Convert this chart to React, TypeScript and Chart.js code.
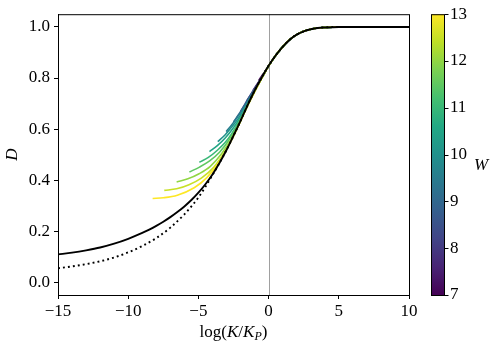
import React, { useEffect, useRef } from "react";
import { Chart, registerables } from "chart.js";
Chart.register(...registerables);

// ---- tick values / labels ----
const xTicks = [-15, -10, -5, 0, 5, 10];
const xTickLabels = ["\u221215", "\u221210", "\u22125", "0", "5", "10"];
const yTicks = [0, 0.2, 0.4, 0.6, 0.8, 1.0];
const yTickLabels = ["0.0", "0.2", "0.4", "0.6", "0.8", "1.0"];
const wTicks = [7, 8, 9, 10, 11, 12, 13];
const wTickLabels = ["7", "8", "9", "10", "11", "12", "13"];
const refLineX = 0;

// ---- main (solid) curve ----
const solidX = [-15, -14, -13, -12, -11, -10, -9, -8.5, -8, -7.5, -7, -6.5, -6, -5.5, -5, -4.5, -4, -3.5, -3, -2.5, -2, -1.5, -1, -0.5, 0, 0.5, 1, 1.5, 2, 2.5, 3, 3.5, 4, 5, 6, 7, 8, 9, 10];
const solidD = [0.109, 0.116, 0.125, 0.136, 0.151, 0.170, 0.193, 0.206, 0.221, 0.237, 0.255, 0.275, 0.297, 0.322, 0.351, 0.384, 0.422, 0.467, 0.518, 0.574, 0.632, 0.693, 0.750, 0.801, 0.848, 0.888, 0.922, 0.950, 0.970, 0.983, 0.991, 0.996, 0.998, 1.0, 1.0, 1.0, 1.0, 1.0, 1.0];

// ---- dotted curve ----
const dottedX = [-15, -14, -13, -12, -11, -10, -9, -8, -7, -6, -5.5, -5, -4.5, -4, -3.5, -3, -2.5, -2, -1.5, -1, -0.5, 0, 0.5, 1, 1.5, 2, 2.5, 3, 3.5, 4, 5, 6, 7, 8, 9, 10];
const dottedD = [0.055, 0.062, 0.071, 0.082, 0.097, 0.117, 0.142, 0.173, 0.214, 0.266, 0.297, 0.332, 0.374, 0.420, 0.467, 0.518, 0.574, 0.632, 0.693, 0.750, 0.801, 0.848, 0.888, 0.922, 0.950, 0.970, 0.983, 0.991, 0.996, 0.998, 1.0, 1.0, 1.0, 1.0, 1.0, 1.0];

// ---- coloured curves, one per W ----
const curveW = [13, 12.5, 12, 11.5, 11, 10.5, 10, 9.5, 9, 8.5, 8, 7.5, 7];
const w13X = [-8.26, -7.5, -6.5, -5.3, -4.4, -3.5, -2.5, -1.5, -0.5, 0];
const w13D = [0.328, 0.331, 0.341, 0.370, 0.410, 0.472, 0.572, 0.691, 0.799, 0.847];
const w12_5X = [-7.43, -6.55, -5.67, -4.79, -3.91, -3.03, -2.5, -1.5, -0.5, 0];
const w12_5D = [0.360, 0.366, 0.382, 0.408, 0.450, 0.519, 0.573, 0.692, 0.799, 0.847];
const w12X = [-6.55, -5.75, -4.95, -4.15, -3.35, -2.55, -2.0, -1.5, -0.5, 0];
const w12D = [0.393, 0.405, 0.425, 0.454, 0.503, 0.571, 0.630, 0.692, 0.799, 0.847];
const w11_5X = [-5.64, -4.92, -4.2, -3.48, -2.76, -2.04, -1.5, -0.5, 0];
const w11_5D = [0.432, 0.451, 0.475, 0.510, 0.562, 0.630, 0.692, 0.799, 0.847];
const w11X = [-4.93, -4.29, -3.65, -3.01, -2.37, -1.73, -1.0, -0.5, 0];
const w11D = [0.470, 0.489, 0.517, 0.553, 0.605, 0.667, 0.749, 0.799, 0.847];
const w10_5X = [-4.21, -3.65, -3.09, -2.53, -1.97, -1.41, -1.0, -0.5, 0];
const w10_5D = [0.512, 0.535, 0.565, 0.603, 0.650, 0.706, 0.749, 0.799, 0.847];
const w10X = [-3.62, -3.14, -2.66, -2.18, -1.7, -1.22, -0.5, 0];
const w10D = [0.551, 0.575, 0.606, 0.640, 0.682, 0.728, 0.799, 0.847];
const w9_5X = [-3.02, -2.62, -2.22, -1.82, -1.42, -1.02, -0.5, 0];
const w9_5D = [0.590, 0.617, 0.647, 0.678, 0.714, 0.749, 0.800, 0.847];
const w9X = [-2.5, -2.16, -1.82, -1.48, -1.14, -0.8, -0.4, 0];
const w9D = [0.628, 0.655, 0.684, 0.713, 0.742, 0.771, 0.810, 0.847];
const w8_5X = [-2.0, -1.72, -1.44, -1.16, -0.88, -0.6, -0.3, 0];
const w8_5D = [0.668, 0.695, 0.721, 0.743, 0.766, 0.790, 0.819, 0.847];
const w8X = [-1.55, -1.33, -1.11, -0.89, -0.67, -0.45, -0.2, 0];
const w8D = [0.710, 0.730, 0.750, 0.767, 0.786, 0.806, 0.829, 0.847];
const w7_5X = [-1.1, -0.92, -0.74, -0.56, -0.38, -0.2, 0];
const w7_5D = [0.752, 0.768, 0.783, 0.798, 0.814, 0.829, 0.847];
const w7X = [-0.7, -0.56, -0.42, -0.28, -0.14, 0];
const w7D = [0.790, 0.802, 0.8135, 0.824, 0.8365, 0.847];
// shared right-hand part of every coloured curve (lies under the black curve)
const tailX = [0.5, 1, 1.5, 2, 2.5, 3, 3.5, 4, 5, 6, 7, 8, 9, 10];
const tailD = [0.888, 0.922, 0.950, 0.970, 0.983, 0.991, 0.996, 0.998, 1.0, 1.0, 1.0, 1.0, 1.0, 1.0];

const curveHeads: [number[], number[]][] = [
  [w13X, w13D], [w12_5X, w12_5D], [w12X, w12D], [w11_5X, w11_5D], [w11X, w11D],
  [w10_5X, w10_5D], [w10X, w10D], [w9_5X, w9_5D], [w9X, w9D], [w8_5X, w8_5D],
  [w8X, w8D], [w7_5X, w7_5D], [w7X, w7D],
];

// ---- styling ----
const W_MIN = 7;
const W_MAX = 13;
const VIRIDIS = ["#440154", "#482475", "#414487", "#355f8d", "#2a788e", "#21918c", "#22a884", "#44bf70", "#7ad151", "#bddf26", "#fde725"];
const FONT = "'Liberation Serif', 'DejaVu Serif', serif";
const FS = 17;

function hexToRgb(h: string) {
  return [parseInt(h.slice(1, 3), 16), parseInt(h.slice(3, 5), 16), parseInt(h.slice(5, 7), 16)];
}
function viridis(t: number) {
  const tt = Math.max(0, Math.min(1, t)) * (VIRIDIS.length - 1);
  const i = Math.min(VIRIDIS.length - 2, Math.floor(tt));
  const f = tt - i;
  const a = hexToRgb(VIRIDIS[i]);
  const b = hexToRgb(VIRIDIS[i + 1]);
  const c = a.map((v, k) => Math.round(v + (b[k] - v) * f));
  return `rgb(${c[0]},${c[1]},${c[2]})`;
}
const zip = (xs: number[], ys: number[]) => xs.map((x, i) => ({ x, y: ys[i] }));

const decorPlugin = {
  id: "decor",
  beforeDatasetsDraw(chart: any) {
    const { ctx, chartArea, scales } = chart;
    const px = Math.round(scales.x.getPixelForValue(refLineX)) + 0.5;
    ctx.save();
    ctx.strokeStyle = "#a0a0a0";
    ctx.lineWidth = 1;
    ctx.beginPath();
    ctx.moveTo(px, chartArea.top);
    ctx.lineTo(px, chartArea.bottom);
    ctx.stroke();
    ctx.restore();
  },
  afterDraw(chart: any) {
    const { ctx, chartArea, scales } = chart;
    const { left, right, top, bottom } = chartArea;
    ctx.save();
    // frame
    ctx.strokeStyle = "#000";
    ctx.lineWidth = 1;
    ctx.strokeRect(left + 0.5, top + 0.5, right - left, bottom - top);

    // colour bar
    const w = scales.w;
    const y13 = w.getPixelForValue(W_MAX);
    const y7 = w.getPixelForValue(W_MIN);
    const bx = 431;
    const bw = 13;
    const g = ctx.createLinearGradient(0, y7, 0, y13);
    VIRIDIS.forEach((c, i) => g.addColorStop(i / (VIRIDIS.length - 1), c));
    ctx.fillStyle = g;
    ctx.fillRect(bx, y13, bw, y7 - y13);
    ctx.strokeRect(bx + 0.5, y13 + 0.5, bw, y7 - y13);
    ctx.beginPath();
    wTicks.forEach((v) => {
      const y = Math.round(w.getPixelForValue(v)) + 0.5;
      ctx.moveTo(bx + bw + 0.5, y);
      ctx.lineTo(bx + bw + 4.5, y);
    });
    ctx.stroke();

    // W label
    ctx.fillStyle = "#000";
    ctx.font = `italic ${FS}px ${FONT}`;
    ctx.textAlign = "left";
    ctx.textBaseline = "alphabetic";
    ctx.fillText("W", 474, 170);

    // x-axis title: log(K/K_P)
    const parts = [
      { t: "log(", style: "normal", size: FS, dy: 0 },
      { t: "K", style: "italic", size: FS, dy: 0 },
      { t: "/", style: "normal", size: FS, dy: 0 },
      { t: "K", style: "italic", size: FS, dy: 0 },
      { t: "P", style: "italic", size: 12, dy: 3 },
      { t: ")", style: "normal", size: FS, dy: 0 },
    ];
    let total = 0;
    const widths = parts.map((p) => {
      ctx.font = `${p.style} ${p.size}px ${FONT}`;
      const wd = ctx.measureText(p.t).width;
      total += wd;
      return wd;
    });
    let cx = (left + right) / 2 - total / 2;
    const base = 337;
    parts.forEach((p, i) => {
      ctx.font = `${p.style} ${p.size}px ${FONT}`;
      ctx.fillText(p.t, cx, base + p.dy);
      cx += widths[i];
    });
    ctx.restore();
  },
};

export default function App() {
  const ref = useRef<HTMLCanvasElement | null>(null);
  useEffect(() => {
    if (!ref.current) return;
    const colored = curveHeads.map(([hx, hd], i) => ({
      label: `W=${curveW[i]}`,
      data: zip(hx.concat(tailX), hd.concat(tailD)),
      borderColor: viridis((curveW[i] - W_MIN) / (W_MAX - W_MIN)),
      borderWidth: 1.6,
      pointRadius: 0,
      fill: false,
      cubicInterpolationMode: "monotone" as const,
    }));
    const chart = new Chart(ref.current, {
      type: "line",
      data: {
        datasets: [
          {
            label: "solid",
            data: zip(solidX, solidD),
            borderColor: "#000",
            borderWidth: 1.9,
            pointRadius: 0,
            fill: false,
            cubicInterpolationMode: "monotone",
          },
          {
            label: "dotted",
            data: zip(dottedX, dottedD),
            borderColor: "#000",
            borderWidth: 1.9,
            borderDash: [1.9, 3.1],
            pointRadius: 0,
            fill: false,
            cubicInterpolationMode: "monotone",
          },
          ...colored,
        ] as any,
      },
      options: {
        animation: false,
        responsive: false,
        devicePixelRatio: 1,
        parsing: false as any,
        layout: { padding: { top: 14, left: 0, right: 0, bottom: 0 } },
        plugins: { legend: { display: false }, tooltip: { enabled: false } },
        scales: {
          x: {
            type: "linear",
            min: -15,
            max: 10,
            afterBuildTicks: (s: any) => { s.ticks = xTicks.map((v) => ({ value: v })); },
            afterFit: (s: any) => { s.height = 54; },
            ticks: {
              font: { family: FONT, size: FS },
              color: "#000",
              padding: 2,
              maxRotation: 0,
              callback: (v: any) => xTickLabels[xTicks.indexOf(Number(v))] ?? "",
            },
            grid: { display: true, drawOnChartArea: false, drawTicks: true, tickLength: 4, color: "#000" },
            border: { display: true, color: "#000", width: 1 },
          },
          y: {
            type: "linear",
            min: -0.05,
            max: 1.05,
            afterBuildTicks: (s: any) => { s.ticks = yTicks.map((v) => ({ value: v })); },
            afterFit: (s: any) => { s.width = 58; },
            ticks: {
              font: { family: FONT, size: FS },
              color: "#000",
              padding: 4,
              callback: (v: any) => yTickLabels[yTicks.findIndex((t) => Math.abs(t - Number(v)) < 1e-9)] ?? "",
            },
            grid: { display: true, drawOnChartArea: false, drawTicks: true, tickLength: 4, color: "#000" },
            border: { display: true, color: "#000", width: 1 },
            title: {
              display: true,
              text: "D",
              color: "#000",
              font: { family: FONT, size: FS, style: "italic" },
              padding: { top: 2, bottom: 0 },
            },
          },
          w: {
            type: "linear",
            position: "right",
            min: W_MIN,
            max: W_MAX,
            afterBuildTicks: (s: any) => { s.ticks = wTicks.map((v) => ({ value: v })); },
            afterFit: (s: any) => { s.width = 89; },
            ticks: {
              font: { family: FONT, size: FS },
              color: "#000",
              padding: 3,
              callback: (v: any) => wTickLabels[wTicks.indexOf(Number(v))] ?? "",
            },
            grid: { display: true, drawOnChartArea: false, drawTicks: true, tickLength: 38, color: "rgba(0,0,0,0)" },
            border: { display: false },
          },
        },
      } as any,
      plugins: [decorPlugin],
    });
    return () => chart.destroy();
  }, []);
  return (
    <div style={{ position: "fixed", left: 0, top: 0, width: 498, height: 349, background: "#fff" }}>
      <canvas ref={ref} width={498} height={349} style={{ display: "block" }} />
    </div>
  );
}
